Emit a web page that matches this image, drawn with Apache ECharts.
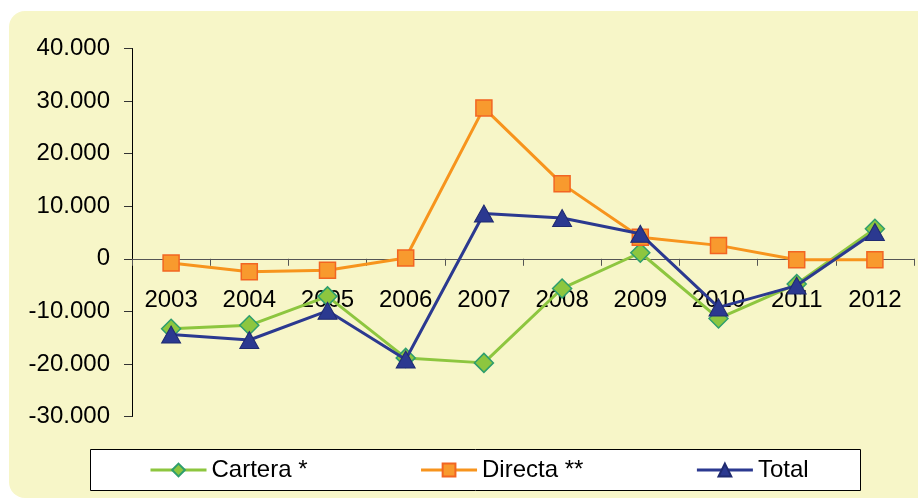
<!DOCTYPE html>
<html>
<head>
<meta charset="utf-8">
<title>Inversión</title>
<script src="https://cdn.jsdelivr.net/npm/echarts@6/dist/echarts.min.js"></script>
<style>
  html, body { margin: 0; padding: 0; background: #ffffff; }
  .com-container { position: relative; width: 918px; height: 500px; overflow: hidden; }
  .com-back { position: absolute; left: 9px; top: 11px; width: 930px; height: 487px; background: #f7f6c8; border-radius: 16px; }
  .com-chart { position: absolute; left: 0; top: 0; width: 918px; height: 500px; }
</style>
</head>
<body>
<div class="com-container">
  <div class="com-back"></div>
  <div class="com-chart" id="main"></div>
</div>
<script>
// años del eje de categorías
const years = ['2003', '2004', '2005', '2006', '2007', '2008', '2009', '2010', '2011', '2012']
// valores
const cartera = [-13300, -12650, -7150, -18850, -19800, -5650, 1150, -11350, -4800, 5700]
const directa = [-800, -2450, -2200, 150, 28700, 14250, 4100, 2550, -200, -200]
const total = [-14400, -15450, -9900, -19150, 8600, 7750, 4750, -9250, -5100, 5100]
// marcas del eje de valores
const yTicks = [-30000, -20000, -10000, 0, 10000, 20000, 30000, 40000]

const chartInstance = echarts.init(document.getElementById('main'), null, { renderer: 'canvas' })

// formato con punto de miles: 40.000
function fmt(v) {
  const s = Math.abs(v).toString().replace(/\B(?=(\d{3})+(?!\d))/g, '.')
  return (v < 0 ? '-' : '') + s
}

const font = 'Liberation Sans, Arial, sans-serif'
const gridTop = 48.5
const gridBottom = 83.5
const plotH = 500 - gridTop - gridBottom
// el eje X va sobre el cero: se sube con offset negativo
const zeroOffset = -plotH * (0 - yTicks[0]) / (yTicks[yTicks.length - 1] - yTicks[0])

const option = {
  animation: false,
  backgroundColor: 'transparent',
  textStyle: { fontFamily: font },
  grid: {
    left: 132,
    right: 4,
    top: gridTop,
    bottom: gridBottom,
    containLabel: false
  },
  // caja blanca de la leyenda
  graphic: [
    {
      type: 'rect',
      shape: { x: 90.5, y: 449.5, width: 770, height: 41 },
      style: { fill: '#ffffff', stroke: '#000000', lineWidth: 1 },
      z: 0
    }
  ],
  legend: {
    left: 144,
    top: 453,
    itemWidth: 56,
    itemHeight: 16,
    itemGap: 112,
    lineStyle: { width: 3 },
    textStyle: { fontSize: 24, color: '#000', fontFamily: font },
    data: ['Cartera *', 'Directa **', 'Total']
  },
  xAxis: {
    type: 'category',
    data: years,
    position: 'bottom',
    offset: zeroOffset,
    boundaryGap: true,
    axisLine: { onZero: false, lineStyle: { color: '#555555', width: 1 } },
    axisTick: { show: true, length: 7, alignWithLabel: false, lineStyle: { color: '#555555' } },
    axisLabel: { fontSize: 24, color: '#000', margin: 30, fontFamily: font }
  },
  yAxis: {
    type: 'value',
    min: yTicks[0],
    max: yTicks[yTicks.length - 1],
    interval: 10000,
    splitLine: { show: false },
    axisLine: { show: true, lineStyle: { color: '#000000', width: 1 } },
    axisTick: { show: true, length: 8, lineStyle: { color: '#333' } },
    axisLabel: { fontSize: 24, color: '#000', margin: 22, fontFamily: font, formatter: fmt }
  },
  series: [
    {
      name: 'Cartera *',
      type: 'line',
      data: cartera,
      symbol: 'diamond',
      symbolSize: 19,
      lineStyle: { color: '#8dc63f', width: 3 },
      itemStyle: { color: '#8dc63f', borderColor: '#2e9e6e', borderWidth: 1.5 },
      z: 2
    },
    {
      name: 'Directa **',
      type: 'line',
      data: directa,
      symbol: 'rect',
      symbolSize: 16,
      lineStyle: { color: '#f7941d', width: 3 },
      itemStyle: { color: '#f89a2e', borderColor: '#f26522', borderWidth: 1.5 },
      z: 3
    },
    {
      name: 'Total',
      type: 'line',
      data: total,
      symbol: 'triangle',
      symbolSize: [19, 17],
      lineStyle: { color: '#2b3990', width: 3 },
      itemStyle: { color: '#2b3990', borderColor: '#1f2a70', borderWidth: 1 },
      z: 4
    }
  ]
}

chartInstance.setOption(option)
</script>
</body>
</html>
